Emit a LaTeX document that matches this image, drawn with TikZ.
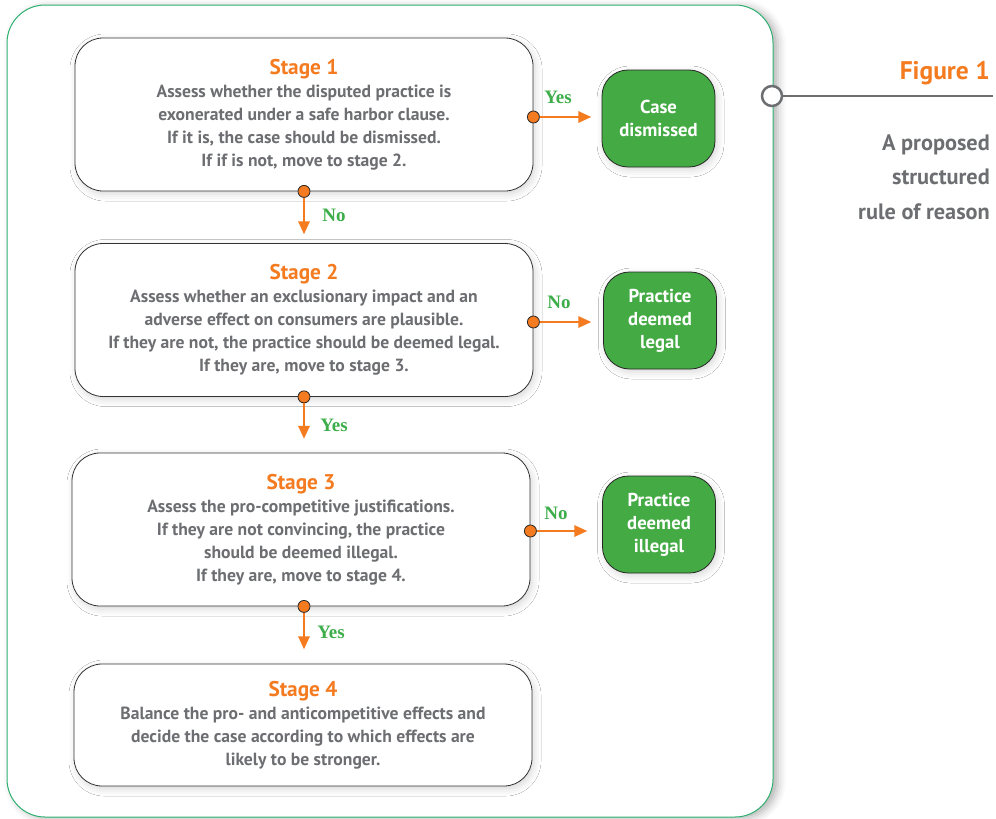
\documentclass[tikz,border=0pt]{standalone}
\usepackage{fontspec}
\setmainfont{PT Sans}
\newfontfamily\lblfont{Liberation Serif}
\usetikzlibrary{arrows.meta,shadows.blur,calc}
\definecolor{txtgray}{HTML}{6D6E71}
\definecolor{orng}{HTML}{F47B20}
\definecolor{boxgreen}{HTML}{44AA44}
\definecolor{lblgreen}{HTML}{3DAE4A}
\definecolor{panelgreen}{HTML}{2EB070}
\tikzset{
  softshadow/.style={blur shadow={shadow xshift=2pt, shadow yshift=-3pt, shadow blur radius=7pt, shadow opacity=16}},
  stagebox/.style={draw=black!80, line width=0.8pt, rounded corners=28pt, fill=white,
    minimum width=458pt, minimum height=153pt, align=center, text=txtgray,
    font=\bfseries\fontsize{17.6}{23}\selectfont, softshadow},
  resbox/.style={draw=black!85, line width=0.8pt, rounded corners=26pt, fill=boxgreen,
    minimum width=113pt, minimum height=97pt, align=center, text=white,
    font=\bfseries\fontsize{18.7}{23}\selectfont, softshadow},
  dot/.style={circle, draw=black!85, line width=0.8pt, fill=orng, minimum size=12pt, inner sep=0pt},
  arr/.style={draw=orng, line width=2.8pt, -{Triangle[length=13pt,width=11pt]}},
  lbl/.style={text=lblgreen, font=\lblfont\bfseries\fontsize{19}{20}\selectfont},
}
\newcommand{\stagettl}[1]{{\color{orng}\fontsize{21.3}{23}\selectfont #1}}
\begin{document}
\begin{tikzpicture}[x=1pt,y=-1pt]
\useasboundingbox (0,0) rectangle (996,819);
% panel
\draw[panelgreen, line width=1pt, fill=white, rounded corners=38pt,
  blur shadow={shadow xshift=5pt, shadow yshift=-2pt, shadow blur radius=8pt, shadow opacity=30}]
  (7,5) rectangle (773,817);
% stage boxes
\node[stagebox] (s1) at (304,114.5) {\stagettl{Stage 1}\\
Assess whether the disputed practice is\\
exonerated under a safe harbor clause.\\
If it is, the case should be dismissed.\\
If if is not, move to stage 2.};
\node[stagebox] (s2) at (304,320) {\stagettl{Stage 2}\\
Assess whether an exclusionary impact and an\\
adverse effect on consumers are plausible.\\
If they are not, the practice should be deemed legal.\\
If they are, move to stage 3.};
\node[stagebox] (s3) at (301,529.5) {\stagettl{Stage 3}\\
Assess the pro-competitive justifications.\\
If they are not convincing, the practice\\
should be deemed illegal.\\
If they are, move to stage 4.};
\node[stagebox, minimum height=122pt] (s4) at (303,725) {\stagettl{Stage 4}\\
Balance the pro- and anticompetitive effects and\\
decide the case according to which effects are\\
likely to be stronger.};
% result boxes
\node[resbox] (r1) at (658.5,118.5) {Case\\dismissed};
\node[resbox] (r2) at (660,320.5) {Practice\\deemed\\legal};
\node[resbox] (r3) at (659,524.5) {Practice\\deemed\\illegal};
% connectors
\node[dot] (d1r) at ($(s1.east)+(0,2.5)$) {};
\coordinate (e1r) at ($(d1r)+(58,0)$);
\draw[arr] (d1r) -- (e1r);
\node[lbl] (l1r) at (558,97) {Yes};
\node[dot] (d1b) at (s1.south) {};
\coordinate (e1b) at ($(d1b)+(0,43)$);
\draw[arr] (d1b) -- (e1b);
\node[lbl] (l1b) at (334,215) {No};
\node[dot] (d2r) at ($(s2.east)+(0,2)$) {};
\coordinate (e2r) at ($(d2r)+(58,0)$);
\draw[arr] (d2r) -- (e2r);
\node[lbl] (l2r) at (559,302) {No};
\node[dot] (d2b) at (s2.south) {};
\coordinate (e2b) at ($(d2b)+(0,42)$);
\draw[arr] (d2b) -- (e2b);
\node[lbl] (l2b) at (334,425) {Yes};
\node[dot] (d3r) at ($(s3.east)+(0,1.5)$) {};
\coordinate (e3r) at ($(d3r)+(57,0)$);
\draw[arr] (d3r) -- (e3r);
\node[lbl] (l3r) at (556,513) {No};
\node[dot] (d3b) at ($(s3.south)+(3,0)$) {};
\coordinate (e3b) at ($(d3b)+(0,43)$);
\draw[arr] (d3b) -- (e3b);
\node[lbl] (l3b) at (331,632) {Yes};
% figure caption
\node[circle, draw=txtgray, line width=2.5pt, fill=white, minimum size=20pt, inner sep=0pt] (fc) at (772,96) {};
\coordinate (fe) at (993,96);
\draw[txtgray, line width=2.5pt] (fc) -- (fe);
\node[anchor=east, text=orng, font=\bfseries\fontsize{25.5}{28}\selectfont, inner sep=0pt] (fig) at (990,73) {Figure 1};
\node[anchor=east, align=right, text=txtgray, font=\bfseries\fontsize{22.3}{34.5}\selectfont, inner sep=0pt] (cap) at (990,177) {A proposed\\structured\\rule of reason};
\end{tikzpicture}
\end{document}
